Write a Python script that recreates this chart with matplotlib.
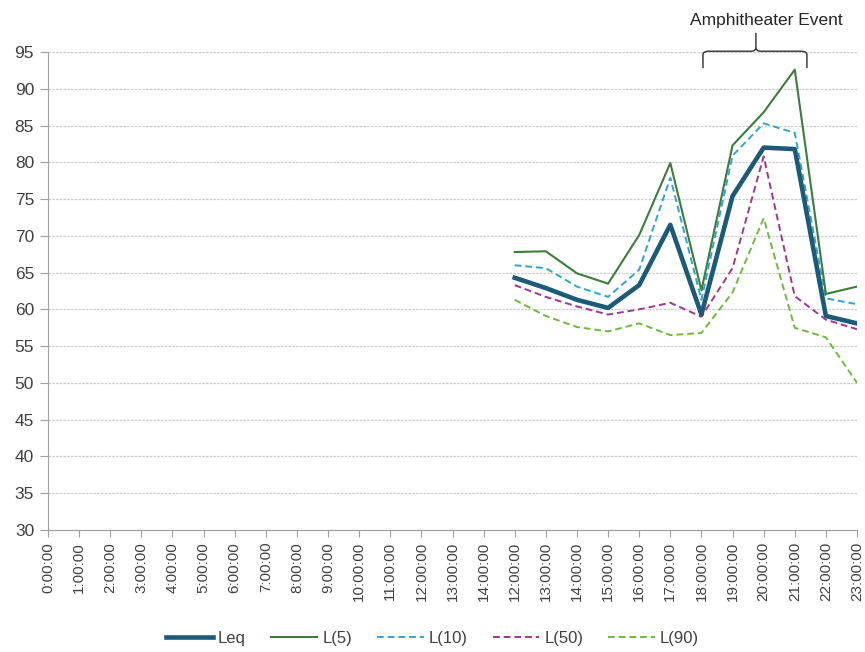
import numpy as np
import matplotlib
matplotlib.use("Agg")
import matplotlib.pyplot as plt
from matplotlib.path import Path
from matplotlib.patches import PathPatch

plt.rcParams['font.family'] = ['Liberation Sans', 'DejaVu Sans']

# category labels as they appear on the x axis
hours = ['%d:00:00' % h for h in range(0, 15)] + ['%d:00:00' % h for h in range(12, 24)]

# measured levels (dBA), only the last 12 categories have data
n_empty = 15
leq = [64.3, 62.9, 61.3, 60.2, 63.3, 71.5, 59.3, 75.4, 82.0, 81.8, 59.1, 58.1]
l5 = [67.8, 67.9, 64.9, 63.5, 70.1, 79.9, 62.6, 82.3, 86.8, 92.6, 62.1, 63.1]
l10 = [66.0, 65.6, 63.1, 61.7, 65.4, 77.9, 61.3, 80.9, 85.3, 84.0, 61.5, 60.7]
l50 = [63.3, 61.7, 60.4, 59.3, 60.0, 60.9, 59.0, 65.6, 80.8, 61.8, 58.6, 57.3]
l90 = [61.3, 59.1, 57.6, 57.0, 58.1, 56.5, 56.8, 62.3, 72.4, 57.5, 56.2, 50.0]

fig = plt.figure(figsize=(8.65, 6.52), dpi=100)
ax = fig.add_axes([48 / 865, 1 - 530 / 652, (857 - 48) / 865, (530 - 52) / 652])

x_all = np.arange(len(hours))
x = x_all[n_empty:]

ax.plot(x, leq, color='#1b5a78', lw=3.3, label='Leq', zorder=6)
ax.plot(x, l5, color='#3b7d3a', lw=1.5, label='L(5)', zorder=5)
ax.plot(x, l10, color='#2fa3d6', lw=1.4, ls=(0, (3.5, 2)), label='L(10)', zorder=4)
ax.plot(x, l50, color='#a23594', lw=1.4, ls=(0, (3.5, 2)), label='L(50)', zorder=4)
ax.plot(x, l90, color='#6dbb3c', lw=1.4, ls=(0, (3.5, 2)), label='L(90)', zorder=4)

ax.set_xlim(0, len(hours) - 1)
ax.set_ylim(30, 95)
ax.set_yticks(np.arange(30, 96, 5))
ax.set_xticks(x_all)
ax.set_xticklabels(hours, rotation=90, fontsize=11, color='#404040')
ax.tick_params(axis='y', labelsize=12.5, colors='#404040', length=6, color='#a0a0a0', pad=4)
ax.tick_params(axis='x', length=5, color='#a0a0a0', direction='out')
ax.grid(axis='y', color='#cccccc', ls=(0, (2, 1)), lw=0.9)
ax.set_axisbelow(True)
for s in ['top', 'right']:
    ax.spines[s].set_visible(False)
for s in ['left', 'bottom']:
    ax.spines[s].set_color('#a0a0a0')

# brace over the event period
xl, xr, xm = 21.05, 24.39, 22.75
yb, yh, yt = 92.8, 95.1, 97.6
r = 0.18
verts = [(xl, yb), (xl, yh - 0.5), (xl, yh), (xl + r, yh),
         (xm - r, yh), (xm, yh), (xm, yh + 0.5), (xm, yt)]
codes = [Path.MOVETO, Path.LINETO, Path.CURVE3, Path.CURVE3,
         Path.LINETO, Path.CURVE3, Path.CURVE3, Path.LINETO]
verts2 = [(xr, yb), (xr, yh - 0.5), (xr, yh), (xr - r, yh),
          (xm + r, yh), (xm, yh), (xm, yh + 0.5)]
codes2 = [Path.MOVETO, Path.LINETO, Path.CURVE3, Path.CURVE3,
          Path.LINETO, Path.CURVE3, Path.CURVE3]
for v, c in [(verts, codes), (verts2, codes2)]:
    ax.add_patch(PathPatch(Path(v, c), fill=False, color='#404040', lw=1.1, clip_on=False))
ax.text(23.1, 99.3, 'Amphitheater Event', ha='center', va='center', fontsize=12.5,
        color='#262626', clip_on=False)

leg = fig.legend(loc='center', bbox_to_anchor=(0.5, 1 - 638 / 652), ncol=5, frameon=False,
                 fontsize=12, handlelength=2.8, columnspacing=1.5, handletextpad=0.3)
for t in leg.get_texts():
    t.set_color('#404040')

fig.savefig('out.png', dpi=100)
